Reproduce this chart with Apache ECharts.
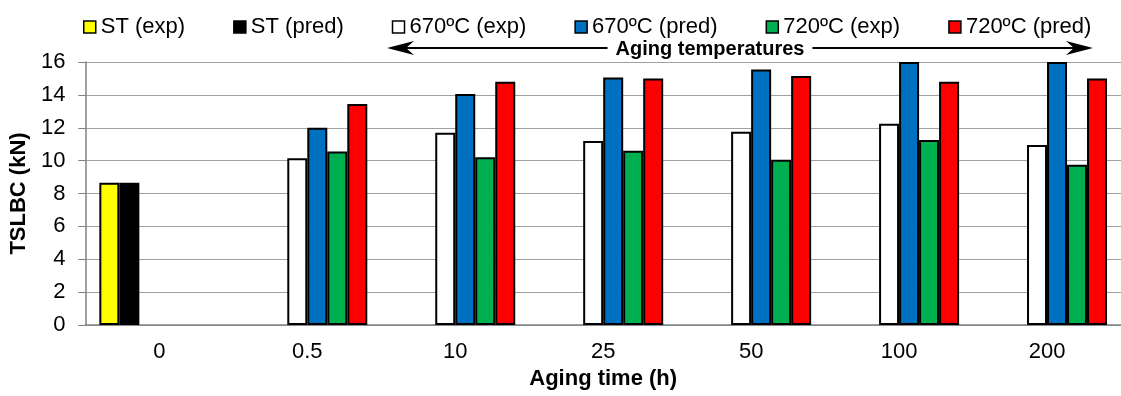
<!DOCTYPE html>
<html>
<head>
<meta charset="utf-8">
<title>TSLBC vs aging time</title>
<script src="https://cdn.jsdelivr.net/npm/echarts@6/dist/echarts.min.js"></script>
<style>
  html, body { margin: 0; padding: 0; background: #fff; }
  #chart { width: 1121px; height: 396px; }
</style>
</head>
<body>
<div id="chart"></div>
<script>
// 数据 (kN)
const categories = ['0', '0.5', '10', '25', '50', '100', '200'];
const stExp = [8.65, null, null, null, null, null, null];
const stPred = [8.65, null, null, null, null, null, null];
const exp670 = [null, 10.15, 11.7, 11.2, 11.75, 12.25, 10.95];
const pred670 = [null, 12.0, 14.05, 15.05, 15.55, 16, 16];
const exp720 = [null, 10.55, 10.2, 10.6, 10.05, 11.25, 9.75];
const pred720 = [null, 13.45, 14.8, 15.0, 15.15, 14.8, 15.0];
const yTicks = { min: 0, max: 16, interval: 2 };

const FONT = "'Liberation Sans', Arial, sans-serif";

function makeBar(name, data, color) {
  return {
    name: name,
    type: 'bar',
    data: data,
    barWidth: 20,
    barGap: '0%',
    itemStyle: { color: color, borderColor: '#000', borderWidth: 2 },
    emphasis: { disabled: true }
  };
}

const chart = echarts.init(document.getElementById('chart'));
chart.setOption({
  animation: false,
  textStyle: { fontFamily: FONT },
  legend: {
    left: 78,
    top: 11,
    icon: 'rect',
    itemWidth: 12,
    itemHeight: 12,
    itemGap: 48,
    textStyle: { fontSize: 22, color: '#000', fontFamily: FONT },
    itemStyle: { borderColor: '#000', borderWidth: 1.5 }
  },
  grid: { left: 84, right: 0, top: 62, bottom: 71 },
  xAxis: {
    type: 'category',
    data: categories,
    name: 'Aging time (h)',
    nameLocation: 'middle',
    nameGap: 38,
    nameTextStyle: { fontSize: 22, fontWeight: 'bold', color: '#000' },
    axisLine: { lineStyle: { color: '#808080', width: 1.5 } },
    axisTick: { length: 7, lineStyle: { color: '#808080' } },
    axisLabel: { fontSize: 22, color: '#000', margin: 16 }
  },
  yAxis: {
    type: 'value',
    min: yTicks.min,
    max: yTicks.max,
    interval: yTicks.interval,
    name: 'TSLBC (kN)',
    nameLocation: 'middle',
    nameGap: 48,
    nameTextStyle: { fontSize: 22, fontWeight: 'bold', color: '#000' },
    axisLine: { show: true, lineStyle: { color: '#808080', width: 1.5 } },
    axisTick: { show: true, length: 7, lineStyle: { color: '#808080' } },
    axisLabel: { fontSize: 22, color: '#000', margin: 20 },
    splitLine: { lineStyle: { color: '#a0a0a0', width: 1 } }
  },
  series: [
    makeBar('ST (exp)', stExp, '#FFFF00'),
    makeBar('ST (pred)', stPred, '#000000'),
    makeBar('670ºC (exp)', exp670, '#FFFFFF'),
    makeBar('670ºC (pred)', pred670, '#0070C0'),
    makeBar('720ºC (exp)', exp720, '#00B050'),
    makeBar('720ºC (pred)', pred720, '#FF0000')
  ],
  // "Aging temperatures" 双向箭头注释
  graphic: [
    { type: 'line', shape: { x1: 400, y1: 48, x2: 1080, y2: 48 }, style: { stroke: '#000', lineWidth: 2 } },
    { type: 'polygon', shape: { points: [[387, 48], [414, 41], [406, 48], [414, 55]] }, style: { fill: '#000' } },
    { type: 'polygon', shape: { points: [[1093, 48], [1066, 41], [1074, 48], [1066, 55]] }, style: { fill: '#000' } },
    {
      type: 'text',
      x: 710, y: 49,
      style: {
        text: 'Aging temperatures',
        font: 'bold 20px ' + FONT,
        fill: '#000',
        align: 'center',
        verticalAlign: 'middle',
        backgroundColor: '#fff',
        padding: [0, 8]
      }
    }
  ]
});
window.addEventListener('resize', () => chart.resize());
</script>
</body>
</html>
